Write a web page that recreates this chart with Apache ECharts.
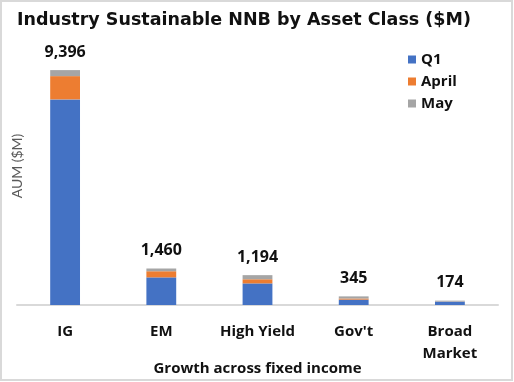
<!DOCTYPE html>
<html><head><meta charset="utf-8">
<script src="https://cdn.jsdelivr.net/npm/echarts@6/dist/echarts.min.js"></script>
<style>html,body{margin:0;padding:0;background:#fff}#c{width:514px;height:382px}</style>
</head><body><div id="c"></div>
<script>
const categories = ['IG', 'EM', 'High Yield', "Gov't", 'Broad\nMarket'];
const q1 = [8225, 1105, 864, 215, 135];
const april = [930, 245, 165, 45, 4];
const may = [241, 110, 165, 85, 35];
const totals = [9396, 1460, 1194, 345, 174];
const seriesNames = ['Q1', 'April', 'May'];
const colors = ['#4472C4', '#ED7D31', '#A5A5A5'];

const chart = echarts.init(document.getElementById('c'), null, {renderer: 'canvas'});
const fontFam = '"Open Sans", Lato, sans-serif';
chart.setOption({
  animation: false,
  graphic: [
    {type: 'rect', shape: {x: 1, y: 1, width: 511, height: 379}, style: {fill: 'none', stroke: '#d9d9d9', lineWidth: 2}},
    {type: 'text', x: 17, y: 166, rotation: Math.PI / 2,
      style: {text: 'AUM ($M)', align: 'center', verticalAlign: 'middle', fontFamily: 'Lato, sans-serif', fontSize: 14, fill: '#595959'}}
  ],
  title: {text: 'Industry Sustainable NNB by Asset Class ($M)', left: 12, top: 6,
    textStyle: {fontFamily: '"DejaVu Sans", sans-serif', fontWeight: 'bold', fontSize: 17.5, color: '#111'}},
  legend: {orient: 'vertical', left: 403, top: 47, itemWidth: 8, itemHeight: 8, itemGap: 7, icon: 'rect',
    data: seriesNames,
    textStyle: {fontFamily: fontFam, fontWeight: 'bold', fontSize: 15, color: '#111'}},
  grid: {left: 17, right: 16, top: 55, bottom: 77, containLabel: false, outerBoundsMode: 'none'},
  xAxis: {type: 'category', data: categories,
    axisLine: {lineStyle: {color: '#d9d9d9', width: 2}}, axisTick: {show: false},
    axisLabel: {interval: 0, margin: 16, fontFamily: fontFam, fontWeight: 'bold', fontSize: 15, color: '#111', lineHeight: 22},
    name: 'Growth across fixed income', nameLocation: 'middle', nameGap: 56, nameMoveOverlap: false,
    nameTextStyle: {fontFamily: fontFam, fontWeight: 'bold', fontSize: 15, color: '#111'}},
  yAxis: {type: 'value', min: 0, max: 10000, splitLine: {show: false},
    axisLine: {show: false}, axisTick: {show: false}, axisLabel: {show: false}},
  series: [
    {name: 'Q1', type: 'bar', stack: 's', data: q1, barWidth: '31%', itemStyle: {color: colors[0]}},
    {name: 'April', type: 'bar', stack: 's', data: april, itemStyle: {color: colors[1]}},
    {name: 'May', type: 'bar', stack: 's', data: may, itemStyle: {color: colors[2]},
      label: {show: true, position: 'top', distance: 10, fontFamily: fontFam, fontWeight: 'bold', fontSize: 16, color: '#111',
        formatter: p => totals[p.dataIndex].toLocaleString('en-US')}}
  ]
});
</script></body></html>
